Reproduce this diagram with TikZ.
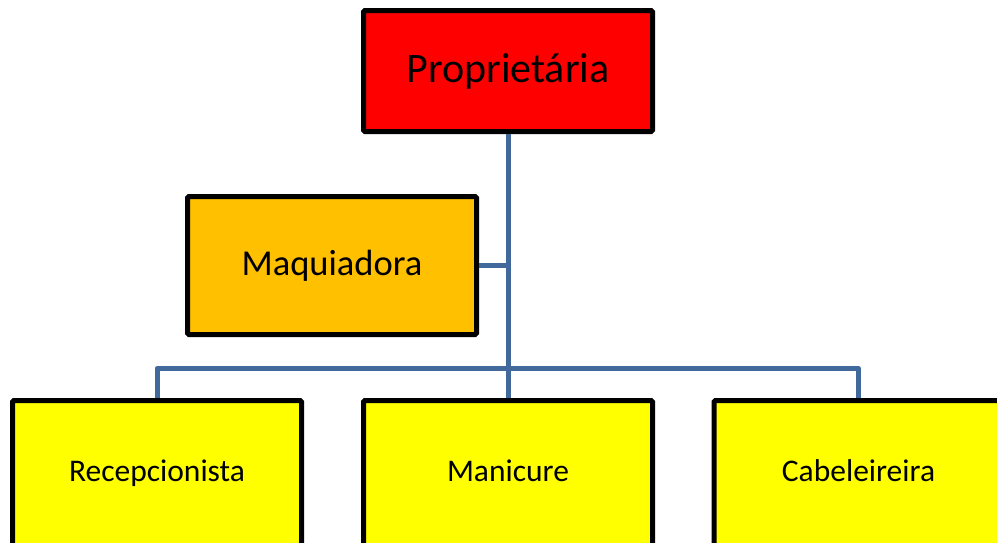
\documentclass[tikz,border=0pt]{standalone}
\usepackage{fontspec}
\setmainfont{Carlito}
\definecolor{linkblue}{RGB}{65,105,156}
\definecolor{redbox}{RGB}{255,0,0}
\definecolor{orangebox}{RGB}{255,192,0}
\definecolor{yellowbox}{RGB}{255,255,0}
\begin{document}
\begin{tikzpicture}
            [x=1pt, y=-1pt,
            box/.style={rectangle, draw=black, line width=5pt, rounded corners=1.5pt,
                minimum width=289pt, inner sep=0pt},
            topbox/.style={box, fill=redbox, minimum height=121pt, font=\fontsize{42}{49}\selectfont},
            midbox/.style={box, fill=orangebox, minimum height=138pt, font=\fontsize{36.5}{43}\selectfont},
            lowbox/.style={box, fill=yellowbox, minimum height=145pt, text height=22pt, text depth=6pt,
                font=\fontsize{31.5}{37}\selectfont},
            link/.style={linkblue, line width=5pt, line join=round}]

            \useasboundingbox (0,0) rectangle (997,542);
            \clip (0,0) rectangle (997,542);

            \node[topbox] (prop) at (508,71) {Proprietária};
            \node[midbox] (maq) at (332,265.5) {Maquiadora};
            \node[lowbox] (rec) at (157,473) {Recepcionista};
            \node[lowbox] (man) at (508,473) {Manicure};
            \node[lowbox] (cab) at (858.5,473) {Cabeleireira};

            % Connectors
            \coordinate (bar) at (508,368.5);
            \draw[link] (prop.south) -- (man.north);
            \draw[link] (maq.east) -- (maq.east -| prop.south);
            \draw[link] (rec.north) |- (bar) -| (cab.north);

        \end{tikzpicture}
\end{document}
